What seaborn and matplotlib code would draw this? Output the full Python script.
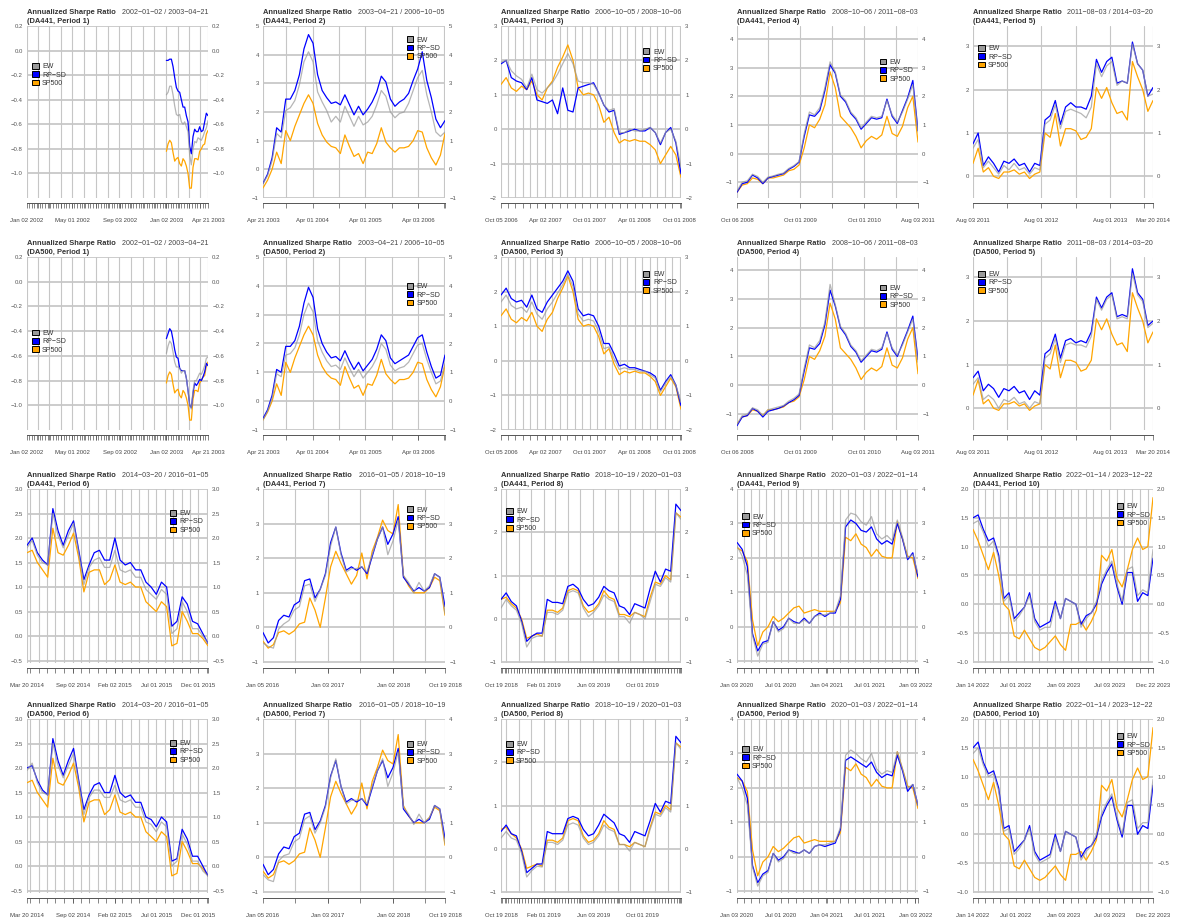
import numpy as np
import pandas as pd
import matplotlib
matplotlib.use("Agg")
import matplotlib.pyplot as plt
import seaborn as sns
from matplotlib.patches import Patch

# ---------------------------------------------------------------- data
period_start = ["2002-01-02", "2003-04-21", "2006-10-05", "2008-10-06", "2011-08-03",
                "2014-03-20", "2016-01-05", "2018-10-19", "2020-01-03", "2022-01-14"]
period_end = ["2003-04-21", "2006-10-05", "2008-10-06", "2011-08-03", "2014-03-20",
              "2016-01-05", "2018-10-19", "2020-01-03", "2022-01-14", "2023-12-22"]
series_start = ["2003-01-02", "2003-04-21", "2006-10-05", "2008-10-06", "2011-08-03",
                "2014-03-20", "2016-01-05", "2018-10-19", "2020-01-03", "2022-01-14"]
series_names = ["EW", "RP\u2212SD", "SP500"]
universes = ["DA441", "DA500"]

x_label_dates = [
    ["2002-01-02", "2002-05-01", "2002-09-03", "2003-01-02", "2003-04-21"],
    ["2003-04-21", "2004-04-01", "2005-04-01", "2006-04-03"],
    ["2006-10-05", "2007-04-02", "2007-10-01", "2008-04-01", "2008-10-01"],
    ["2008-10-06", "2009-10-01", "2010-10-01", "2011-08-03"],
    ["2011-08-03", "2012-08-01", "2013-08-01", "2014-03-20"],
    ["2014-03-20", "2014-09-02", "2015-02-02", "2015-07-01", "2015-12-01"],
    ["2016-01-05", "2017-01-03", "2018-01-02", "2018-10-19"],
    ["2018-10-19", "2019-02-01", "2019-06-03", "2019-10-01"],
    ["2020-01-03", "2020-07-01", "2021-01-04", "2021-07-01", "2022-01-03"],
    ["2022-01-14", "2022-07-01", "2023-01-03", "2023-07-03", "2023-12-22"],
]

y_ticks = [
    [-1.0, -0.8, -0.6, -0.4, -0.2, 0.0, 0.2],
    [-1, 0, 1, 2, 3, 4, 5],
    [-2, -1, 0, 1, 2, 3],
    [-1, 0, 1, 2, 3, 4],
    [0, 1, 2, 3],
    [-0.5, 0.0, 0.5, 1.0, 1.5, 2.0, 2.5, 3.0],
    [-1, 0, 1, 2, 3, 4],
    [-1, 0, 1, 2, 3],
    [-1, 0, 1, 2, 3, 4],
    [-1.0, -0.5, 0.0, 0.5, 1.0, 1.5, 2.0],
]

# --- SP500 benchmark (same for both universes)
sp_p1 = [-0.82, -0.76, -0.73, -0.75, -0.83, -0.9, -0.88, -0.87, -0.92, -0.94, -0.88, -0.9, -0.94,
         -1.0, -1.12, -1.12, -0.95, -0.88, -0.88, -0.89, -0.82, -0.8, -0.77, -0.76, -0.68, -0.65]
sp_p2 = [-0.65, -0.38, 0.0, 0.6, 0.2, 1.35, 1.0, 1.5, 1.9, 2.3, 2.6, 2.3, 1.6, 1.2, 0.95, 0.8, 0.75,
         0.55, 1.2, 0.8, 0.45, 0.55, 0.2, 0.6, 0.55, 0.9, 1.45, 0.95, 0.75, 0.6, 0.75, 0.75, 0.8,
         1.0, 1.35, 1.3, 0.75, 0.4, 0.15, 0.5, 1.25]
sp_p3 = [1.3, 1.5, 1.2, 1.1, 1.25, 1.15, 1.4, 1.0, 0.85, 1.2, 1.4, 1.8, 2.1, 2.45, 2.0, 1.2, 1.0,
         1.05, 1.0, 0.7, 0.2, 0.35, -0.1, -0.4, -0.3, -0.35, -0.3, -0.35, -0.35, -0.45, -0.6,
         -1.0, -0.75, -0.5, -0.75, -1.4]
sp_p4 = [-1.35, -1.1, -1.05, -0.85, -0.9, -1.05, -0.85, -0.85, -0.8, -0.75, -0.6, -0.55, -0.4,
         0.2, 1.0, 0.9, 1.2, 1.7, 2.85, 2.3, 1.3, 1.1, 0.9, 0.6, 0.2, 0.45, 0.6, 0.5, 0.65, 1.3,
         0.7, 0.6, 0.95, 1.6, 2.0, 0.4]
sp_p5 = [0.3, 0.65, 0.1, 0.2, 0.0, -0.05, 0.1, 0.1, 0.15, 0.05, 0.1, -0.05, 0.05, 0.1, 1.0, 0.9,
         1.45, 0.7, 1.1, 1.1, 1.05, 0.85, 0.9, 1.1, 2.05, 1.8, 2.05, 1.7, 1.45, 1.5, 1.3, 2.65,
         2.3, 2.0, 1.5, 1.75]
sp_p6 = [1.7, 1.75, 1.5, 1.35, 1.2, 2.2, 1.7, 1.65, 1.85, 2.1, 1.6, 0.9, 1.3, 1.35, 1.35, 1.05,
         1.15, 1.45, 1.1, 1.05, 1.1, 1.0, 1.0, 0.7, 0.6, 0.5, 0.7, 0.6, -0.2, -0.15, 0.5, 0.3,
         0.05, 0.05, -0.05, -0.2]
sp_p7 = [-0.4, -0.6, -0.5, -0.15, -0.1, -0.2, -0.1, 0.1, 0.15, 0.85, 0.5, 0.0, 0.85, 1.75, 2.2,
         1.85, 1.55, 1.25, 1.5, 2.15, 1.4, 2.2, 2.6, 3.1, 2.8, 2.7, 3.55, 1.5, 1.2, 1.0, 1.0, 1.0,
         1.15, 1.45, 1.35, 0.35]
sp_p8 = [0.45, 0.5, 0.35, 0.25, 0.0, -0.45, -0.4, -0.35, -0.4, 0.2, 0.2, 0.15, 0.25, 0.65, 0.7,
         0.65, 0.3, 0.15, 0.2, 0.35, 0.65, 0.5, 0.45, 0.1, 0.1, 0.05, 0.15, 0.1, 0.05, 0.5, 0.85,
         0.8, 1.0, 0.9, 2.45, 2.35]
sp_p9 = [2.3, 2.2, 1.9, 0.2, -0.55, -0.15, 0.0, 0.3, 0.15, 0.25, 0.4, 0.55, 0.6, 0.4, 0.45, 0.5,
         0.45, 0.45, 0.45, 0.45, 0.7, 2.6, 2.5, 2.7, 2.4, 2.3, 2.05, 2.25, 2.05, 2.0, 2.0, 3.05,
         2.55, 2.05, 2.0, 1.4]
sp_p10 = [1.3, 1.1, 0.85, 0.6, 0.9, 0.5, 0.0, -0.1, -0.55, -0.6, -0.45, -0.6, -0.75, -0.8, -0.75,
          -0.65, -0.55, -0.7, -0.8, -0.35, -0.35, -0.3, -0.45, -0.3, -0.1, 0.85, 0.75, 0.95, 0.45,
          0.3, 0.6, 0.95, 1.15, 0.95, 1.0, 1.85]

# --- DA441
da441_rp_p1 = [-0.08, -0.08, -0.07, -0.07, -0.13, -0.22, -0.3, -0.33, -0.34, -0.4, -0.46, -0.46,
               -0.53, -0.58, -0.78, -0.84, -0.7, -0.64, -0.66, -0.66, -0.62, -0.66, -0.65, -0.58,
               -0.51, -0.53]
da441_ew_p1 = [-0.36, -0.34, -0.29, -0.29, -0.36, -0.45, -0.52, -0.53, -0.52, -0.58, -0.6, -0.58,
               -0.62, -0.66, -0.85, -0.93, -0.8, -0.74, -0.75, -0.71, -0.72, -0.73, -0.7, -0.66,
               -0.63, -0.57]
da441_rp_p2 = [-0.49, -0.17, 0.4, 1.45, 1.3, 2.45, 2.45, 2.75, 3.3, 4.2, 4.7, 4.4, 3.3, 2.75, 2.5,
               2.3, 2.35, 2.25, 2.6, 2.25, 1.9, 2.2, 1.9, 2.1, 2.35, 2.7, 3.25, 3.05, 2.45, 2.2,
               2.35, 2.45, 2.65, 3.1, 3.5, 4.1, 3.1, 2.5, 1.75, 1.45, 1.7]
da441_ew_p2 = [-0.5, -0.22, 0.3, 1.25, 1.1, 2.05, 2.15, 2.4, 2.95, 3.75, 4.1, 3.75, 2.7, 2.35,
               2.05, 1.65, 1.85, 1.65, 2.2, 1.85, 1.5, 1.85, 1.55, 1.65, 1.85, 2.25, 2.75, 2.55,
               2.0, 1.8, 1.95, 2.0, 2.3, 2.75, 3.2, 3.45, 2.6, 2.0, 1.3, 1.15, 1.3]
da441_rp_p3 = [1.9, 2.0, 1.5, 1.4, 1.35, 1.15, 1.5, 0.85, 0.8, 0.75, 0.85, 0.45, 1.2, 0.55, 0.5,
               1.2, 1.25, 1.3, 1.35, 1.05, 0.7, 0.5, 0.55, -0.15, -0.1, -0.05, 0.0, -0.05, -0.05,
               0.05, -0.1, -0.45, -0.1, 0.05, -0.4, -1.3]
da441_ew_p3 = [1.95, 2.0, 1.7, 1.55, 1.45, 1.2, 1.6, 1.15, 1.05, 1.2, 1.35, 1.6, 1.9, 2.2, 1.9,
               1.4, 1.35, 1.35, 1.3, 1.05, 0.7, 0.55, 0.6, -0.1, -0.1, 0.0, -0.05, -0.05, 0.0,
               0.05, -0.1, -0.4, -0.1, 0.0, -0.35, -1.1]
da441_rp_p4 = [-1.35, -1.05, -1.0, -0.75, -0.85, -1.05, -0.85, -0.8, -0.75, -0.7, -0.55, -0.45,
               -0.3, 0.6, 1.35, 1.3, 1.5, 2.2, 3.1, 2.8, 2.0, 1.8, 1.4, 1.2, 0.85, 1.05, 1.25,
               1.2, 1.25, 1.9, 1.3, 1.05, 1.5, 1.95, 2.55, 0.8]
da441_ew_p4 = [-1.3, -1.0, -0.95, -0.72, -0.8, -1.0, -0.82, -0.78, -0.72, -0.68, -0.52, -0.42,
               -0.28, 0.7, 1.45, 1.35, 1.6, 2.3, 3.2, 2.85, 2.05, 1.85, 1.45, 1.25, 0.9, 1.1, 1.3,
               1.25, 1.3, 1.85, 1.35, 1.1, 1.45, 1.9, 2.4, 0.75]
da441_rp_p5 = [0.75, 1.0, 0.25, 0.45, 0.3, 0.1, 0.35, 0.3, 0.4, 0.25, 0.3, 0.1, 0.3, 0.25, 1.3,
               1.4, 1.75, 1.2, 1.6, 1.7, 1.6, 1.6, 1.55, 1.85, 2.7, 2.4, 2.65, 2.75, 2.15, 2.2,
               2.15, 3.1, 2.6, 2.45, 1.85, 2.05]
da441_ew_p5 = [0.65, 0.85, 0.2, 0.35, 0.2, 0.05, 0.25, 0.15, 0.3, 0.15, 0.2, 0.05, 0.2, 0.15,
               1.2, 1.3, 1.65, 1.1, 1.5, 1.55, 1.5, 1.45, 1.35, 1.6, 2.6, 2.3, 2.55, 2.65, 2.1,
               2.2, 2.15, 3.05, 2.6, 2.45, 1.85, 1.9]
da441_rp_p6 = [1.85, 2.0, 1.7, 1.55, 1.45, 2.6, 2.15, 1.85, 2.15, 2.35, 1.75, 1.15, 1.45, 1.7,
               1.75, 1.55, 1.55, 2.0, 1.55, 1.45, 1.5, 1.35, 1.35, 1.1, 1.0, 0.85, 1.1, 1.0, 0.2,
               0.3, 0.8, 0.65, 0.3, 0.25, 0.05, -0.15]
da441_ew_p6 = [1.8, 1.95, 1.65, 1.5, 1.45, 2.5, 2.05, 1.8, 2.05, 2.3, 1.7, 1.05, 1.4, 1.55, 1.6,
               1.4, 1.4, 1.75, 1.35, 1.3, 1.35, 1.2, 1.2, 0.95, 0.85, 0.75, 0.95, 0.85, 0.05,
               0.15, 0.7, 0.5, 0.15, 0.15, 0.0, -0.15]
da441_rp_p7 = [-0.15, -0.45, -0.3, 0.2, 0.35, 0.3, 0.65, 0.75, 1.35, 1.4, 0.85, 1.1, 1.55, 2.45,
               2.9, 2.15, 1.65, 1.75, 1.65, 1.75, 1.55, 2.05, 2.55, 2.9, 2.4, 2.7, 3.2, 1.45, 1.25,
               1.05, 1.15, 1.05, 1.15, 1.55, 1.45, 0.6]
da441_ew_p7 = [-0.45, -0.55, -0.6, -0.05, 0.1, 0.2, 0.5, 0.6, 1.2, 1.25, 0.75, 1.1, 1.5, 2.35,
               2.9, 2.1, 1.6, 1.7, 1.7, 1.75, 1.6, 2.1, 2.55, 2.9, 2.1, 2.5, 3.1, 1.5, 1.3, 1.0,
               1.3, 1.05, 1.2, 1.55, 1.45, 0.4]
da441_rp_p8 = [0.45, 0.6, 0.4, 0.3, -0.05, -0.52, -0.4, -0.33, -0.33, 0.45, 0.38, 0.38, 0.35,
               0.75, 0.8, 0.7, 0.45, 0.3, 0.35, 0.5, 0.75, 0.65, 0.6, 0.3, 0.25, 0.1, 0.35, 0.3,
               0.25, 0.7, 1.1, 0.85, 1.15, 1.1, 2.65, 2.5]
da441_ew_p8 = [0.25, 0.45, 0.3, 0.2, -0.1, -0.65, -0.45, -0.4, -0.4, 0.15, 0.15, 0.1, 0.2, 0.6,
               0.65, 0.6, 0.25, 0.05, 0.15, 0.3, 0.55, 0.45, 0.4, 0.05, 0.05, -0.1, 0.15, 0.1,
               0.0, 0.4, 0.8, 0.75, 0.95, 0.85, 2.45, 2.3]
da441_rp_p9 = [2.45, 2.25, 1.75, -0.2, -0.7, -0.45, -0.4, 0.15, -0.1, 0.0, 0.25, 0.15, 0.1, 0.25,
               0.1, 0.3, 0.4, 0.3, 0.4, 0.4, 0.8, 2.9, 3.1, 3.0, 2.8, 2.75, 2.9, 2.55, 2.4, 2.5,
               2.4, 3.0, 2.55, 1.95, 2.15, 1.45]
da441_ew_p9 = [2.35, 2.05, 1.5, -0.25, -0.85, -0.5, -0.45, 0.15, -0.15, -0.05, 0.25, 0.1, 0.1,
               0.2, 0.1, 0.3, 0.35, 0.35, 0.4, 0.45, 0.9, 3.1, 3.3, 3.25, 3.05, 2.95, 3.2, 2.7,
               2.55, 2.65, 2.5, 3.1, 2.6, 2.0, 2.1, 1.55]
da441_rp_p10 = [1.5, 1.55, 1.3, 1.1, 1.15, 0.85, 0.1, 0.2, -0.25, -0.15, -0.05, 0.2, -0.25, -0.4,
                -0.35, -0.3, 0.05, -0.25, 0.1, 0.05, 0.0, -0.35, -0.2, -0.15, 0.0, 0.35, 0.55,
                0.7, 0.3, 0.0, 0.55, 0.55, 0.05, 0.2, 0.15, 0.8]
da441_ew_p10 = [1.4, 1.45, 1.25, 1.0, 1.1, 0.8, 0.05, 0.15, -0.3, -0.2, -0.05, 0.15, -0.3, -0.45,
                -0.4, -0.4, 0.0, -0.25, 0.1, 0.05, 0.0, -0.4, -0.25, -0.15, 0.05, 0.4, 0.6, 0.75,
                0.35, 0.05, 0.6, 0.65, 0.15, 0.25, 0.2, 0.95]

# --- DA500
da500_rp_p1 = [-0.46, -0.42, -0.38, -0.4, -0.47, -0.55, -0.61, -0.62, -0.7, -0.72, -0.72, -0.72,
               -0.78, -0.88, -1.0, -1.02, -0.9, -0.82, -0.84, -0.82, -0.79, -0.8, -0.77, -0.73,
               -0.66, -0.68]
da500_ew_p1 = [-0.58, -0.52, -0.48, -0.5, -0.57, -0.65, -0.69, -0.69, -0.7, -0.74, -0.72, -0.72,
               -0.78, -0.88, -1.0, -1.03, -0.88, -0.8, -0.8, -0.77, -0.74, -0.75, -0.72, -0.68,
               -0.62, -0.61]
da500_rp_p2 = [-0.6, -0.3, 0.2, 1.1, 1.0, 1.9, 1.9, 2.1, 2.6, 3.4, 3.95, 3.6, 2.5, 2.0, 1.7, 1.5,
               1.55, 1.4, 1.75, 1.4, 1.1, 1.35, 1.05, 1.25, 1.45, 1.8, 2.3, 2.1, 1.5, 1.3, 1.4,
               1.5, 1.6, 1.9, 2.2, 2.3, 1.7, 1.2, 0.8, 0.9, 1.6]
da500_ew_p2 = [-0.65, -0.35, 0.1, 0.95, 0.85, 1.6, 1.65, 1.85, 2.3, 3.0, 3.4, 3.1, 2.1, 1.7, 1.4,
               1.2, 1.25, 1.1, 1.5, 1.15, 0.85, 1.1, 0.8, 1.0, 1.2, 1.5, 2.0, 1.8, 1.25, 1.05,
               1.15, 1.2, 1.35, 1.65, 1.95, 2.0, 1.45, 1.0, 0.6, 0.7, 1.3]
da500_rp_p3 = [1.9, 2.1, 1.8, 1.7, 1.75, 1.55, 1.9, 1.5, 1.4, 1.7, 1.9, 2.1, 2.3, 2.6, 2.3, 1.5,
               1.3, 1.35, 1.3, 1.0, 0.5, 0.5, 0.2, -0.15, -0.1, -0.2, -0.2, -0.25, -0.3, -0.35,
               -0.45, -0.85, -0.6, -0.4, -0.7, -1.3]
da500_ew_p3 = [1.7, 1.9, 1.6, 1.5, 1.55, 1.4, 1.7, 1.35, 1.2, 1.5, 1.7, 1.95, 2.2, 2.5, 2.15,
               1.35, 1.15, 1.2, 1.15, 0.85, 0.35, 0.4, 0.05, -0.25, -0.2, -0.25, -0.25, -0.3,
               -0.3, -0.4, -0.5, -0.9, -0.65, -0.45, -0.7, -1.2]
da500_rp_p4 = [-1.4, -1.1, -1.05, -0.8, -0.9, -1.1, -0.9, -0.85, -0.8, -0.72, -0.6, -0.5, -0.35,
               0.5, 1.3, 1.25, 1.45, 2.1, 3.3, 2.75, 2.0, 1.75, 1.35, 1.15, 0.8, 1.0, 1.2, 1.15,
               1.25, 1.85, 1.25, 1.0, 1.45, 1.9, 2.4, 0.9]
da500_ew_p4 = [-1.35, -1.05, -1.0, -0.78, -0.85, -1.05, -0.85, -0.8, -0.75, -0.7, -0.55, -0.45,
               -0.3, 0.6, 1.4, 1.3, 1.55, 2.2, 3.5, 2.8, 2.05, 1.8, 1.4, 1.2, 0.85, 1.05, 1.25,
               1.2, 1.3, 1.8, 1.3, 1.05, 1.4, 1.85, 2.3, 0.8]
da500_rp_p5 = [0.7, 0.85, 0.4, 0.55, 0.45, 0.25, 0.45, 0.4, 0.5, 0.35, 0.4, 0.2, 0.4, 0.3, 1.25,
               1.35, 1.7, 1.15, 1.55, 1.6, 1.5, 1.55, 1.5, 1.75, 2.55, 2.3, 2.55, 2.65, 2.1, 2.15,
               2.1, 3.2, 2.65, 2.5, 1.9, 2.0]
da500_ew_p5 = [0.55, 0.7, 0.2, 0.3, 0.2, 0.0, 0.2, 0.15, 0.25, 0.1, 0.15, 0.0, 0.15, 0.1, 1.15,
               1.25, 1.6, 1.05, 1.45, 1.5, 1.45, 1.45, 1.4, 1.65, 2.5, 2.25, 2.5, 2.6, 2.05, 2.1,
               2.05, 3.1, 2.6, 2.45, 1.85, 1.95]
da500_rp_p6 = [2.0, 2.05, 1.75, 1.55, 1.45, 2.6, 2.15, 1.85, 2.15, 2.4, 1.75, 1.15, 1.45, 1.65,
               1.7, 1.5, 1.5, 1.85, 1.5, 1.4, 1.45, 1.3, 1.3, 1.0, 0.95, 0.8, 1.0, 0.9, 0.1, 0.15,
               0.75, 0.55, 0.2, 0.2, 0.0, -0.2]
da500_ew_p6 = [1.95, 2.1, 1.7, 1.5, 1.45, 2.5, 2.05, 1.8, 2.05, 2.3, 1.7, 1.05, 1.4, 1.55, 1.55,
               1.4, 1.4, 1.65, 1.35, 1.3, 1.35, 1.2, 1.2, 0.9, 0.85, 0.7, 0.9, 0.8, 0.0, 0.1,
               0.65, 0.45, 0.1, 0.1, -0.1, -0.2]
da500_rp_p7 = [-0.2, -0.5, -0.35, 0.1, 0.3, 0.25, 0.6, 0.7, 1.25, 1.3, 0.8, 1.05, 1.5, 2.35, 2.8,
               2.05, 1.6, 1.7, 1.6, 1.7, 1.5, 2.0, 2.5, 2.8, 2.3, 2.6, 3.15, 1.4, 1.2, 1.0, 1.1,
               1.0, 1.1, 1.5, 1.4, 0.55]
da500_ew_p7 = [-0.5, -0.65, -0.7, -0.1, 0.05, 0.1, 0.45, 0.55, 1.1, 1.2, 0.7, 1.0, 1.45, 2.3,
               2.85, 2.05, 1.55, 1.65, 1.65, 1.7, 1.55, 2.05, 2.5, 2.85, 2.05, 2.45, 3.05, 1.45,
               1.25, 0.95, 1.25, 1.0, 1.15, 1.5, 1.4, 0.4]
da500_rp_p8 = [0.4, 0.55, 0.35, 0.3, -0.05, -0.55, -0.45, -0.35, -0.35, 0.4, 0.35, 0.35, 0.35,
               0.7, 0.75, 0.7, 0.45, 0.3, 0.35, 0.55, 0.8, 0.7, 0.6, 0.35, 0.3, 0.15, 0.4, 0.35,
               0.3, 0.65, 1.05, 0.85, 1.1, 1.05, 2.6, 2.45]
da500_ew_p8 = [0.25, 0.4, 0.25, 0.2, -0.1, -0.65, -0.5, -0.4, -0.42, 0.15, 0.15, 0.1, 0.2, 0.55,
               0.6, 0.55, 0.25, 0.1, 0.15, 0.3, 0.55, 0.45, 0.4, 0.1, 0.1, -0.05, 0.15, 0.1, 0.05,
               0.45, 0.8, 0.75, 0.95, 0.85, 2.45, 2.3]
da500_rp_p9 = [2.4, 2.2, 1.7, -0.25, -0.75, -0.5, -0.4, 0.1, -0.1, 0.0, 0.2, 0.15, 0.1, 0.2, 0.1,
               0.3, 0.35, 0.3, 0.35, 0.4, 0.8, 2.8, 2.9, 2.8, 2.7, 2.6, 2.75, 2.45, 2.3, 2.4, 2.35,
               2.95, 2.5, 1.9, 2.1, 1.5]
da500_ew_p9 = [2.3, 2.0, 1.5, -0.3, -0.85, -0.55, -0.45, 0.1, -0.15, -0.05, 0.2, 0.1, 0.1, 0.2,
               0.1, 0.3, 0.35, 0.35, 0.4, 0.45, 0.85, 2.95, 3.1, 3.0, 2.85, 2.75, 3.0, 2.55, 2.4,
               2.5, 2.45, 3.05, 2.55, 2.0, 2.1, 1.5]
da500_rp_p10 = [1.5, 1.6, 1.25, 1.05, 1.1, 0.8, 0.1, 0.15, -0.3, -0.2, -0.1, 0.15, -0.3, -0.45,
                -0.4, -0.35, 0.0, -0.3, 0.05, 0.0, -0.05, -0.4, -0.25, -0.2, -0.05, 0.3, 0.5,
                0.65, 0.25, -0.05, 0.5, 0.5, 0.0, 0.15, 0.1, 0.85]
da500_ew_p10 = [1.4, 1.5, 1.2, 1.0, 1.05, 0.75, 0.05, 0.1, -0.35, -0.25, -0.1, 0.1, -0.35, -0.5,
                -0.45, -0.4, -0.05, -0.3, 0.05, 0.0, -0.05, -0.45, -0.3, -0.2, 0.0, 0.35, 0.55,
                0.7, 0.3, 0.0, 0.55, 0.6, 0.1, 0.2, 0.2, 0.95]

sp_all = [sp_p1, sp_p2, sp_p3, sp_p4, sp_p5, sp_p6, sp_p7, sp_p8, sp_p9, sp_p10]
rp_all = {
    "DA441": [da441_rp_p1, da441_rp_p2, da441_rp_p3, da441_rp_p4, da441_rp_p5,
              da441_rp_p6, da441_rp_p7, da441_rp_p8, da441_rp_p9, da441_rp_p10],
    "DA500": [da500_rp_p1, da500_rp_p2, da500_rp_p3, da500_rp_p4, da500_rp_p5,
              da500_rp_p6, da500_rp_p7, da500_rp_p8, da500_rp_p9, da500_rp_p10],
}
ew_all = {
    "DA441": [da441_ew_p1, da441_ew_p2, da441_ew_p3, da441_ew_p4, da441_ew_p5,
              da441_ew_p6, da441_ew_p7, da441_ew_p8, da441_ew_p9, da441_ew_p10],
    "DA500": [da500_ew_p1, da500_ew_p2, da500_ew_p3, da500_ew_p4, da500_ew_p5,
              da500_ew_p6, da500_ew_p7, da500_ew_p8, da500_ew_p9, da500_ew_p10],
}

# ---------------------------------------------------------------- styling / layout
y_lims = [(-1.2, 0.2), (-1, 5), (-2, 3), (-1.55, 4.45), (-0.5, 3.47),
          (-0.55, 3.0), (-1.03, 4), (-1.02, 3), (-1.05, 4), (-1.02, 2.0)]
y_dec = [1, 0, 0, 0, 0, 1, 0, 0, 0, 1]
grid_first = ["2002-02-01", "2003-10-01", "2006-11-01", "2009-04-01", "2012-02-01",
              "2014-04-01", "2016-07-01", "2018-11-01", "2020-02-01", "2022-02-01"]
grid_step = [1, 6, 1, 6, 6, 1, 6, 1, 1, 1]
dense_ticks = [True, False, False, False, False, False, False, True, False, False]

legend_pos = [
    [(0.03, 0.785), (0.79, 0.94), (0.79, 0.87), (0.79, 0.81), (0.03, 0.89)],
    [(0.03, 0.58), (0.79, 0.85), (0.79, 0.92), (0.79, 0.84), (0.03, 0.92)],
    [(0.79, 0.88), (0.79, 0.90), (0.03, 0.89), (0.03, 0.86), (0.80, 0.92)],
    [(0.79, 0.88), (0.79, 0.875), (0.03, 0.875), (0.03, 0.845), (0.80, 0.92)],
]

C_EW, C_RP, C_SP = "#9a9a9a", "#0000ff", "#ffa500"

sns.set_theme(style="white")
plt.rcParams["font.family"] = ["Liberation Sans", "DejaVu Sans"]
plt.rcParams["axes.unicode_minus"] = True

W, H = 1177, 921
fig = plt.figure(figsize=(W / 100, H / 100), dpi=100)

col_left = [27, 263, 501, 737, 973]
col_right = [208, 445, 681, 918, 1153]
row_top = [26, 257, 489, 719]
row_bottom = [198, 430, 663, 893]

for r in range(4):
    univ = universes[r % 2]
    for c in range(5):
        k = c if r < 2 else c + 5
        l = col_left[c] / W
        b = 1 - row_bottom[r] / H
        w = (col_right[c] - col_left[c]) / W
        h = (row_bottom[r] - row_top[r]) / H
        ax = fig.add_axes([l, b, w, h])
        ax.set_facecolor("white")

        x0 = pd.Timestamp(period_start[k])
        x1 = pd.Timestamp(period_end[k])
        ew = ew_all[univ][k]
        rp = rp_all[univ][k]
        sp = sp_all[k]
        dates = pd.date_range(series_start[k], period_end[k], periods=len(ew))

        # horizontal grid
        for t in y_ticks[k]:
            ax.axhline(t, color="#c4c4c4", lw=1.2, zorder=0)
        # vertical grid
        vdates = [x0] + list(pd.date_range(grid_first[k], period_end[k],
                                           freq=f"{grid_step[k]}MS")) + [x1]
        for d in vdates:
            ax.axvline(d, color="#c6c6c6", lw=0.8, zorder=0)

        sns.lineplot(x=dates, y=sp, ax=ax, color=C_SP, lw=0.9, zorder=3)
        sns.lineplot(x=dates, y=rp, ax=ax, color=C_RP, lw=0.9, zorder=4)
        sns.lineplot(x=dates, y=ew, ax=ax, color=C_EW, lw=0.9, alpha=0.72, zorder=5)

        ax.set_xlim(x0, x1)
        ax.set_ylim(*y_lims[k])
        ax.set_xlabel("")
        ax.set_ylabel("")
        ax.grid(False)

        # y ticks both sides
        ylabs = [f"{v:.{y_dec[k]}f}".replace("-", "\u2212") for v in y_ticks[k]]
        ax.set_yticks(y_ticks[k])
        ax.set_yticklabels(ylabs)
        ax.yaxis.set_ticks_position("both")
        ax.tick_params(axis="y", which="both", length=0, labelleft=True, labelright=True,
                       labelsize=4.3, labelcolor="#555555", pad=3)

        # x ticks
        ld = [pd.Timestamp(d) for d in x_label_dates[k]]
        ax.set_xticks(ld)
        ax.set_xticklabels([d.strftime("%b %d %Y") for d in ld])
        minor = list(vdates)
        if dense_ticks[k]:
            minor += list(pd.date_range(period_start[k], period_end[k], freq="W-MON"))
        ax.set_xticks(minor, minor=True)
        ax.tick_params(axis="x", which="both", direction="out", length=3.5, width=0.5,
                       color="#555555", bottom=True, top=False)
        ax.tick_params(axis="x", which="major", labelsize=4.3, labelcolor="#444444", pad=7)

        for s in ["left", "right", "top"]:
            ax.spines[s].set_visible(False)
        ax.spines["bottom"].set_position(("outward", 3.6))
        ax.spines["bottom"].set_color("#555555")
        ax.spines["bottom"].set_linewidth(0.7)

        # titles
        ax.annotate("Annualized Sharpe Ratio", xy=(0, 1), xycoords="axes fraction",
                    xytext=(0, 9.4), textcoords="offset points", ha="left", va="center",
                    fontsize=5.4, fontweight="bold", color="#333333")
        ax.annotate(f"({univ}, Period {k + 1})", xy=(0, 1), xycoords="axes fraction",
                    xytext=(0, 3.4), textcoords="offset points", ha="left", va="center",
                    fontsize=5.4, fontweight="bold", color="#333333")
        rng = f"{period_start[k]} / {period_end[k]}".replace("-", "\u2212")
        ax.annotate(rng, xy=(1, 1), xycoords="axes fraction",
                    xytext=(0, 9.4), textcoords="offset points", ha="right", va="center",
                    fontsize=5.1, color="#444444")

        handles = [Patch(facecolor=col, edgecolor="black", linewidth=0.7)
                   for col in (C_EW, C_RP, C_SP)]
        leg = ax.legend(handles, series_names, loc="upper left",
                        bbox_to_anchor=legend_pos[r][c], frameon=False, fontsize=5.0,
                        handlelength=0.9, handleheight=0.9, handletextpad=0.5,
                        labelspacing=0.15, borderpad=0, borderaxespad=0)
        for t in leg.get_texts():
            t.set_color("#333333")
        leg.set_zorder(10)

fig.savefig("out.png", dpi=100)
